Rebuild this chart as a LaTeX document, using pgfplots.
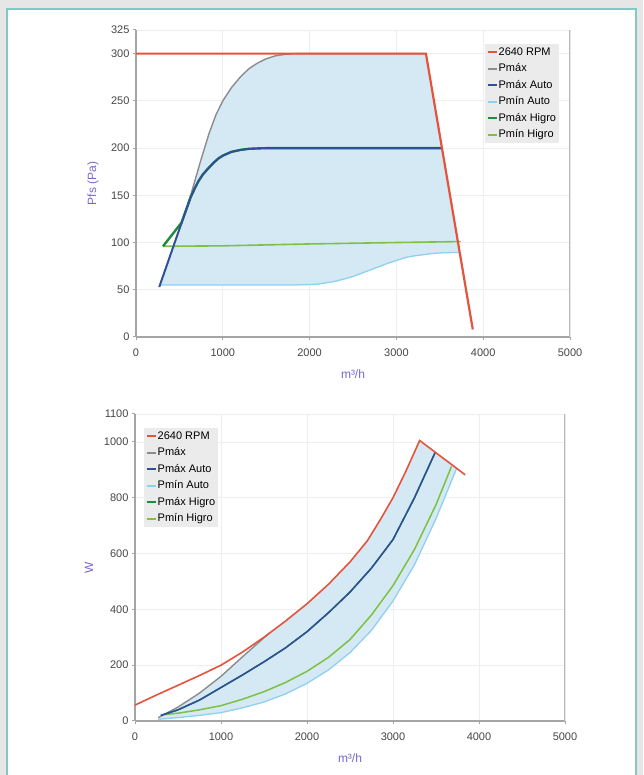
\documentclass[border=0pt]{standalone}
\usepackage{fontspec}
\setmainfont{Liberation Sans}
\usepackage{pgfplots}
\pgfplotsset{compat=1.18}
\definecolor{cRed}{RGB}{229,83,61}
\definecolor{cGray}{RGB}{140,140,140}
\definecolor{cBlue}{RGB}{47,79,154}
\definecolor{cLBlue}{RGB}{141,208,240}
\definecolor{cDGreen}{RGB}{30,140,60}
\definecolor{cLGreen}{RGB}{124,193,66}
\definecolor{cFill}{RGB}{213,233,244}
\definecolor{axisgray}{RGB}{165,165,165}
\definecolor{rightgray}{RGB}{185,185,185}
\definecolor{gridgray}{RGB}{238,238,238}
\definecolor{tickgray}{RGB}{70,70,70}
\definecolor{labcol}{RGB}{120,105,200}
\definecolor{leggray}{RGB}{235,235,235}
\definecolor{bggray}{RGB}{230,230,230}
\definecolor{frameteal}{RGB}{130,200,200}
\pgfplotsset{
  mystyle/.style={
    scale only axis,
    xmin=0,xmax=5000,
    xtick={0,1000,...,5000},
    axis x line*=bottom, axis y line*=left,
    axis line style={draw=axisgray, line width=1.4pt},
    tick style={draw=axisgray, line width=1pt},
    tick align=outside, major tick length=3pt,
    grid=major, major grid style={draw=gridgray, line width=0.8pt},
    tick label style={font=\fontsize{11}{13}\selectfont, text=tickgray},
    x tick label style={yshift=-5pt},
    /pgf/number format/assume math mode=true,
    /pgf/number format/1000 sep={},
    label style={font=\fontsize{12}{14}\selectfont, text=labcol},
    xlabel style={at={(axis description cs:0.5,-0.12)}, anchor=center},
    legend cell align=left,
    legend style={draw=none, fill=leggray, font=\fontsize{11}{13}\selectfont,
      inner sep=1.5pt, row sep=3.5pt, anchor=north west,
      nodes={inner sep=1pt, text height=8.5pt, text depth=2.5pt}},
    legend image code/.code={\draw[##1] (0pt,0pt) -- (9pt,0pt);},
  }
}
\begin{document}
\begin{tikzpicture}[x=1pt,y=1pt]
\useasboundingbox (0,0) rectangle (643,775);
\fill[bggray] (0,0) rectangle (643,775);
\draw[frameteal, line width=1.5pt, fill=white] (7,-20) rectangle (636,766);

% ---------------- top chart ----------------
\begin{axis}[mystyle,
  at={(136pt,438pt)}, anchor=south west,
  width=434pt, height=307pt,
  ymin=0, ymax=325,
  ytick={0,50,100,150,200,250,300,325},
  xlabel={m³/h}, ylabel={Pfs (Pa)},
  ylabel style={at={(axis description cs:-0.099,0.5)}, anchor=center},
  legend style={at={(axis description cs:0.804,0.954)}},
]
\addplot[fill=cFill, draw=none, forget plot] coordinates {
(268,53) (450,101) (630,150) (740,185) (840,215) (920,235) (1000,250) (1100,264)
(1200,275) (1300,284) (1400,290) (1500,294.5) (1600,297.5) (1700,299) (1800,299.8)
(1880,300) (3340,300) (3730,89.5)
(3600,89.3) (3500,89) (3400,88.2) (3300,87) (3200,85.8) (3100,84) (3000,81) (2900,78)
(2800,74.5) (2700,71) (2600,67.5) (2500,64) (2400,61.5) (2300,59) (2200,57.5) (2100,56)
(2000,55.5) (1800,55) (1000,55) (285,55)
} -- cycle;
% Pmin Auto
\addplot[cLBlue, line width=1.3pt, forget plot] coordinates {
(285,55) (1000,55) (1800,55) (2000,55.5) (2100,56) (2200,57.5) (2300,59) (2400,61.5)
(2500,64) (2600,67.5) (2700,71) (2800,74.5) (2900,78) (3000,81) (3100,84) (3200,85.8)
(3300,87) (3400,88.2) (3500,89) (3600,89.3) (3730,89.5)
};
% Pmin Higro
\addplot[cLGreen, line width=1.6pt, forget plot] coordinates {
(311,96) (1000,96.5) (2000,98.5) (3000,100) (3740,101)
};
% Pmax
\addplot[cGray, line width=1.4pt, forget plot] coordinates {
(268,53) (450,101) (630,150) (740,185) (840,215) (920,235) (1000,250) (1100,264)
(1200,275) (1300,284) (1400,290) (1500,294.5) (1600,297.5) (1700,299) (1800,299.8)
(1880,300) (3340,300)
};
% Pmax Higro
\addplot[cDGreen, line width=2.4pt, forget plot] coordinates {
(311,96) (524,121) (630,148) (680,158) (720,165) (770,172) (827,178) (900,185) (950,189)
(1000,192) (1100,196) (1200,198) (1300,199.2) (1450,199.8) (1600,200) (3525,200)
};
% Pmax Auto
\addplot[cBlue, line width=1.9pt, forget plot] coordinates {
(268,53) (450,101) (630,148) (680,158) (720,165) (770,172) (827,178) (900,185) (950,189)
(1000,192) (1100,196) (1200,198) (1300,199.2) (1450,199.8) (1600,200) (3525,200)
};
% 2640 RPM
\addplot[cRed, line width=2.2pt, forget plot] coordinates {
(0,300) (3340,300) (3880,8)
};
\draw[rightgray, line width=1.4pt] (rel axis cs:1,0) -- (rel axis cs:1,1);
\addlegendimage{cRed, line width=2pt}\addlegendentry{2640 RPM}
\addlegendimage{cGray, line width=2pt}\addlegendentry{Pmáx}
\addlegendimage{cBlue, line width=2pt}\addlegendentry{Pmáx Auto}
\addlegendimage{cLBlue, line width=2pt}\addlegendentry{Pmín Auto}
\addlegendimage{cDGreen, line width=2pt}\addlegendentry{Pmáx Higro}
\addlegendimage{cLGreen, line width=2pt}\addlegendentry{Pmín Higro}
\end{axis}

% ---------------- bottom chart ----------------
\begin{axis}[mystyle,
  at={(135pt,54pt)}, anchor=south west,
  width=430pt, height=307pt,
  ymin=0, ymax=1100,
  ytick={0,200,400,600,800,1000,1100},
  xlabel={m³/h}, ylabel={W},
  ylabel style={at={(axis description cs:-0.107,0.5)}, anchor=center},
  legend style={at={(axis description cs:0.021,0.954)}},
]
\addplot[fill=cFill, draw=none, forget plot] coordinates {
(270,12) (500,50) (750,100) (1000,160) (1250,230) (1500,300) (1750,358) (2000,420)
(2250,490) (2500,570) (2700,645) (2850,720) (3000,800) (3150,895) (3310,1005) (3740,905)
(3500,725) (3250,560) (3000,430) (2750,325) (2500,245) (2250,183) (2000,135) (1750,97)
(1500,68) (1250,47) (1000,30) (750,20) (500,12) (270,6)
} -- cycle;
% Pmin Auto
\addplot[cLBlue, line width=1.3pt, forget plot] coordinates {
(270,6) (500,12) (750,20) (1000,30) (1250,47) (1500,68) (1750,97) (2000,135) (2250,183)
(2500,245) (2750,325) (3000,430) (3250,560) (3500,725) (3740,905)
};
% Pmin Higro
\addplot[cLGreen, line width=1.5pt, forget plot] coordinates {
(310,22) (500,28) (750,40) (1000,55) (1250,78) (1500,105) (1750,138) (2000,178)
(2250,228) (2500,292) (2750,380) (3000,485) (3250,615) (3500,775) (3680,912)
};
% Pmax
\addplot[cGray, line width=1.4pt, forget plot] coordinates {
(270,12) (500,50) (750,100) (1000,160) (1250,230) (1560,315)
};
% Pmax Higro
\addplot[cDGreen, line width=1.5pt, forget plot] coordinates {
(300,20) (500,40) (750,75) (1000,120) (1250,165) (1500,212) (1750,262) (2000,320)
(2250,388) (2500,462) (2750,548) (3000,650) (3250,800) (3490,962)
};
% Pmax Auto
\addplot[cBlue, line width=1.5pt, forget plot] coordinates {
(300,20) (500,40) (750,75) (1000,120) (1250,165) (1500,212) (1750,262) (2000,320)
(2250,388) (2500,462) (2750,548) (3000,650) (3250,800) (3490,962)
};
% 2640 RPM
\addplot[cRed, line width=1.6pt, forget plot] coordinates {
(0,57) (250,93) (500,128) (750,163) (1000,200) (1250,247) (1500,300) (1750,358) (2000,420)
(2250,490) (2500,570) (2700,645) (2850,720) (3000,800) (3150,895) (3310,1005) (3840,882)
};
\draw[rightgray, line width=1.4pt] (rel axis cs:1,0) -- (rel axis cs:1,1);
\addlegendimage{cRed, line width=2pt}\addlegendentry{2640 RPM}
\addlegendimage{cGray, line width=2pt}\addlegendentry{Pmáx}
\addlegendimage{cBlue, line width=2pt}\addlegendentry{Pmáx Auto}
\addlegendimage{cLBlue, line width=2pt}\addlegendentry{Pmín Auto}
\addlegendimage{cDGreen, line width=2pt}\addlegendentry{Pmáx Higro}
\addlegendimage{cLGreen, line width=2pt}\addlegendentry{Pmín Higro}
\end{axis}
\end{tikzpicture}
\end{document}
